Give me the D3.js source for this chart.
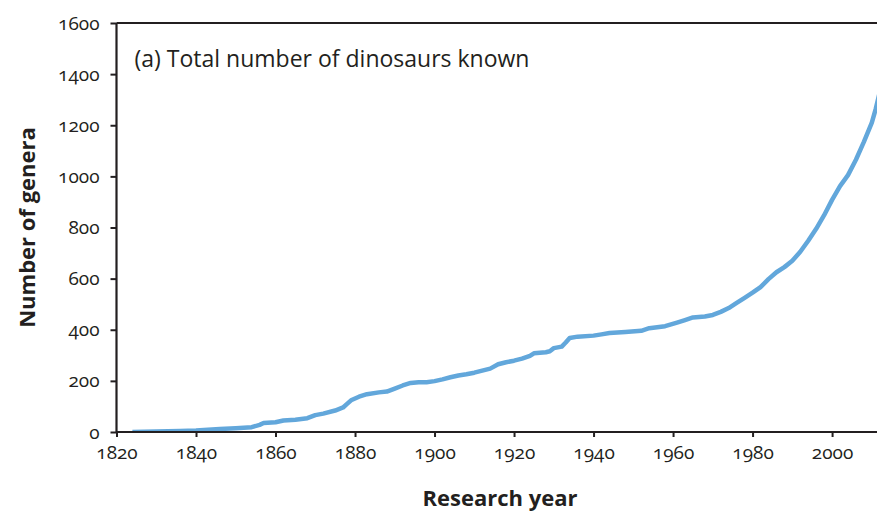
<!DOCTYPE html>
<html>
<head>
<meta charset="utf-8">
<script src="https://cdn.jsdelivr.net/npm/d3@7"></script>
<style>
  body { margin: 0; background: #fff; }
  text { font-family: "Open Sans", Lato, sans-serif; fill: #231f20; }
</style>
</head>
<body>
<div id="chart"></div>
<script>
// cumulative number of dinosaur genera by year
var years = [1824, 1830, 1836, 1840, 1846, 1850, 1854, 1856, 1857, 1860, 1862, 1865, 1868, 1870, 1872, 1875, 1877, 1878, 1879, 1881, 1883, 1886, 1888, 1890, 1892, 1894, 1896, 1898, 1900, 1902, 1904, 1906, 1908, 1910, 1912, 1914, 1916, 1918, 1920, 1922, 1924, 1925, 1928, 1929, 1930, 1932, 1933, 1934, 1936, 1940, 1942, 1944, 1948, 1952, 1954, 1958, 1961, 1963, 1965, 1968, 1970, 1972, 1974, 1976, 1978, 1980, 1982, 1984, 1986, 1988, 1990, 1992, 1994, 1996, 1998, 2000, 2002, 2004, 2006, 2008, 2010, 2011, 2012];
var genera = [0, 2, 4, 6, 12, 15, 19, 28, 35, 38, 45, 48, 54, 66, 72, 84, 96, 110, 124, 138, 148, 155, 158, 170, 182, 192, 195, 195, 199, 206, 214, 221, 226, 232, 240, 248, 265, 273, 279, 287, 298, 308, 312, 316, 328, 334, 350, 368, 373, 377, 382, 387, 391, 396, 406, 414, 428, 438, 448, 452, 458, 470, 485, 505, 525, 545, 567, 598, 625, 645, 670, 705, 748, 795, 848, 908, 962, 1005, 1065, 1135, 1210, 1265, 1330];

var xTicks = [1820, 1840, 1860, 1880, 1900, 1920, 1940, 1960, 1980, 2000];
var yTicks = [0, 200, 400, 600, 800, 1000, 1200, 1400, 1600];

var svgWidth = 877;
var svgHeight = 513;

var margin = {
  top: 23,
  right: 0,
  bottom: 81,
  left: 116.5
};

var width = svgWidth - margin.left - margin.right;
var height = svgHeight - margin.top - margin.bottom;

var data = years.map(function(y, i) {
  return { year: y, count: genera[i] };
});

var svg = d3.select("#chart")
  .append("svg")
  .attr("width", svgWidth)
  .attr("height", svgHeight);

var chartGroup = svg.append("g")
  .attr("transform", `translate(${margin.left}, ${margin.top})`);

var xScale = d3.scaleLinear()
  .domain([1820, 2011.3])
  .range([0, width]);

var yScale = d3.scaleLinear()
  .domain([0, 1600])
  .range([height, 0]);

chartGroup.append("clipPath")
  .attr("id", "plot-clip")
  .append("rect")
  .attr("x", 0)
  .attr("y", -5)
  .attr("width", width)
  .attr("height", height + 5);

// the curve
var line = d3.line()
  .x(d => xScale(d.year))
  .y(d => yScale(d.count));

chartGroup.append("path")
  .datum(data)
  .attr("clip-path", "url(#plot-clip)")
  .attr("fill", "none")
  .attr("stroke", "#62a7db")
  .attr("stroke-width", 4.5)
  .attr("stroke-linejoin", "round")
  .attr("d", line);

// axes
var bottomAxis = d3.axisBottom(xScale)
  .tickValues(xTicks)
  .tickSize(5)
  .tickPadding(9)
  .tickFormat(d3.format("d"));

var leftAxis = d3.axisLeft(yScale)
  .tickValues(yTicks)
  .tickSize(6)
  .tickPadding(11)
  .tickFormat(d3.format("d"));

var xAxisG = chartGroup.append("g")
  .attr("transform", `translate(0, ${height})`)
  .call(bottomAxis);

var yAxisG = chartGroup.append("g")
  .call(leftAxis);

[xAxisG, yAxisG].forEach(function(g) {
  g.attr("font-family", null).attr("font-size", null);
  g.select(".domain").attr("stroke", "#231f20").attr("stroke-width", 2.2);
  g.selectAll(".tick line").attr("stroke", "#231f20").attr("stroke-width", 2);
  g.selectAll(".tick text")
    .attr("fill", "#231f20")
    .style("font-size", "19px")
    .style("font-variant-numeric", "oldstyle-nums");
});
xAxisG.select(".domain").attr("d", `M0,0H${width}`);
yAxisG.select(".domain").attr("d", `M0,${height}V0`);

// top frame line
chartGroup.append("line")
  .attr("x1", 0)
  .attr("x2", width)
  .attr("y1", 0)
  .attr("y2", 0)
  .attr("stroke", "#231f20")
  .attr("stroke-width", 2.2);

// panel title
chartGroup.append("text")
  .attr("x", 18)
  .attr("y", 44)
  .style("font-size", "23px")
  .text("(a) Total number of dinosaurs known");

// axis titles
chartGroup.append("text")
  .attr("transform", "rotate(-90)")
  .attr("x", 0 - (height / 2))
  .attr("y", 0 - margin.left + 35)
  .attr("text-anchor", "middle")
  .style("font-size", "22px")
  .style("font-weight", "bold")
  .text("Number of genera");

chartGroup.append("text")
  .attr("transform", `translate(${xScale(1920) - 14}, ${height + 74})`)
  .attr("text-anchor", "middle")
  .style("font-size", "22px")
  .style("font-weight", "bold")
  .text("Research year");
</script>
</body>
</html>
